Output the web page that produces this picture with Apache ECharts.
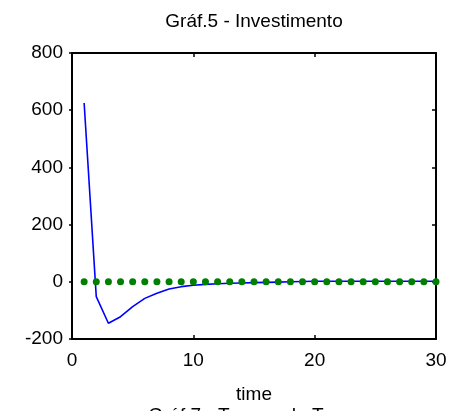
<!DOCTYPE html>
<html>
<head>
<meta charset="utf-8">
<script src="https://cdn.jsdelivr.net/npm/echarts@6/dist/echarts.min.js"></script>
<style>
  html, body { margin: 0; padding: 0; background: #fff; }
  #chart { width: 455px; height: 411px; }
</style>
</head>
<body>
<div id="chart"></div>
<script>
// Periods 1..30
const periods = [1,2,3,4,5,6,7,8,9,10,11,12,13,14,15,16,17,18,19,20,21,22,23,24,25,26,27,28,29,30];
// Investment response (blue line)
const investimento = [625, -52, -145, -122, -87, -58, -40, -25, -17, -12, -9, -7, -5, -4, -3, -2, -1, 0, 1, 2, 2, 2, 2, 2, 2, 2, 2, 2, 2, 2];
// Steady-state reference (green dots)
const baseline = [0,0,0,0,0,0,0,0,0,0,0,0,0,0,0,0,0,0,0,0,0,0,0,0,0,0,0,0,0,0];
const xTicks = [0, 10, 20, 30];
const yTicks = [-200, 0, 200, 400, 600, 800];

const FONT = 'Liberation Sans, Arial, sans-serif';
const FS = 19;
const chart = echarts.init(document.getElementById('chart'), null, { renderer: 'canvas' });

const axisLine = { show: true, onZero: false, lineStyle: { color: '#000', width: 2 } };
const tickIn = { show: true, inside: true, length: 4, lineStyle: { color: '#000', width: 1.5 } };
const tickOut = { show: true, inside: false, length: 3, lineStyle: { color: '#000', width: 1.5 } };

chart.setOption({
  animation: false,
  backgroundColor: '#fff',
  graphic: [
    { type: 'text', x: 254, y: 22,
      style: { text: 'Gráf.5 - Investimento', font: FS + 'px ' + FONT, fill: '#000',
               textAlign: 'center', textVerticalAlign: 'middle' } },
    { type: 'text', x: 254, y: 395,
      style: { text: 'time', font: FS + 'px ' + FONT, fill: '#000',
               textAlign: 'center', textVerticalAlign: 'middle' } },
    { type: 'text', x: 254, y: 416,
      style: { text: 'Gráf.7 - Termos de Troca', font: FS + 'px ' + FONT, fill: '#000',
               textAlign: 'center', textVerticalAlign: 'middle' } }
  ],
  grid: { left: 72, right: 19, top: 53, bottom: 72, containLabel: false },
  xAxis: [
    { type: 'value', min: 0, max: 30, interval: 10, position: 'bottom',
      axisLine, axisTick: tickIn, splitLine: { show: false },
      axisLabel: { color: '#000', fontFamily: FONT, fontSize: FS, margin: 12,
        formatter: v => xTicks.includes(v) ? String(v) : '' } },
    { type: 'value', min: 0, max: 30, interval: 10, position: 'top',
      axisLine, axisTick: tickIn, splitLine: { show: false }, axisLabel: { show: false } }
  ],
  yAxis: [
    { type: 'value', min: -200, max: 800, interval: 200, position: 'left',
      axisLine, axisTick: tickOut, splitLine: { show: false },
      axisLabel: { color: '#000', fontFamily: FONT, fontSize: FS, margin: 9,
        formatter: v => yTicks.includes(v) ? String(v) : '' } },
    { type: 'value', min: -200, max: 800, interval: 200, position: 'right',
      axisLine, axisTick: tickIn, splitLine: { show: false }, axisLabel: { show: false } }
  ],
  series: [
    { type: 'line', data: periods.map((t, i) => [t, investimento[i]]),
      showSymbol: false, lineStyle: { color: '#0000ff', width: 1.6 }, z: 2 },
    { type: 'scatter', data: periods.map((t, i) => [t, baseline[i]]),
      symbolSize: 7, itemStyle: { color: '#008000', opacity: 1 }, z: 3 }
  ]
});
</script>
</body>
</html>
